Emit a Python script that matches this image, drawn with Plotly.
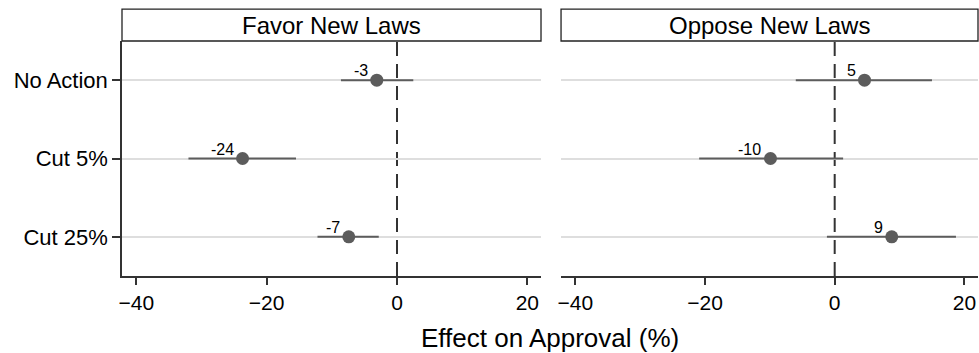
import plotly.graph_objects as go

categories = ["No Action", "Cut 5%", "Cut 25%"]
panels = ["Favor New Laws", "Oppose New Laws"]
favor_est = [-3.1, -23.7, -7.4]
favor_lo = [-8.6, -32.0, -12.2]
favor_hi = [2.5, -15.5, -2.8]
oppose_est = [4.6, -9.9, 8.8]
oppose_lo = [-6.0, -20.9, -1.2]
oppose_hi = [15.0, 1.3, 18.7]
x_ticks = [-40, -20, 0, 20]

FONT = "Liberation Sans, Arial, sans-serif"
GRAY = "#5c5c5c"

fig = go.Figure()
series = [(favor_est, favor_lo, favor_hi), (oppose_est, oppose_lo, oppose_hi)]
for i, (est, lo, hi) in enumerate(series):
    xa = "x" if i == 0 else "x2"
    ya = "y" if i == 0 else "y2"
    fig.add_trace(go.Scatter(
        x=est, y=categories, xaxis=xa, yaxis=ya,
        mode="markers",
        marker=dict(size=13, color=GRAY),
        error_x=dict(type="data", symmetric=False,
                     array=[h - e for h, e in zip(hi, est)],
                     arrayminus=[e - l for e, l in zip(est, lo)],
                     width=0, thickness=2, color=GRAY),
        showlegend=False, cliponaxis=False,
    ))
    for e, c in zip(est, categories):
        fig.add_annotation(xref=xa, yref=ya, x=e, y=c, text=f"{round(e):d}",
                           showarrow=False, xanchor="right", yanchor="bottom",
                           xshift=-7, yshift=-1,
                           font=dict(family=FONT, size=16, color="black"))

L, R = 0.0, 0.4895
R2 = 0.5129
common_x = dict(range=[-42.2, 22.1], tickvals=x_ticks, ticks="outside", ticklen=7,
                tickwidth=1.5, tickcolor="#333", showline=True, linecolor="#333",
                linewidth=1.5, showgrid=False, zeroline=False,
                tickfont=dict(family=FONT, size=21, color="black"))
fig.update_layout(
    xaxis=dict(domain=[L, R], anchor="y", **common_x),
    xaxis2=dict(domain=[R2, 1.0], anchor="y2", **common_x),
    yaxis=dict(domain=[0, 1], anchor="x", type="category", categoryorder="array",
               categoryarray=categories, range=[2.5, -0.5], showgrid=True,
               gridcolor="#dedede", gridwidth=2, ticks="outside", ticklen=8,
               tickwidth=1.5, tickcolor="#333", showline=True, linecolor="#333",
               linewidth=1.5, zeroline=False,
               tickfont=dict(family=FONT, size=22, color="black")),
    yaxis2=dict(domain=[0, 1], anchor="x2", type="category", categoryorder="array",
                categoryarray=categories, range=[2.5, -0.5], showgrid=True,
                gridcolor="#dedede", gridwidth=2, showticklabels=False,
                showline=False, zeroline=False),
    width=979, height=353,
    margin=dict(l=122, r=1, t=41, b=77),
    plot_bgcolor="white", paper_bgcolor="white",
    font=dict(family=FONT, color="black"),
)

# zero reference lines
for xr, yr in [("x", "y domain"), ("x2", "y2 domain")]:
    fig.add_shape(type="line", xref=xr, yref=yr, x0=0, x1=0, y0=0, y1=1,
                  line=dict(color="#333", width=2, dash="14px,8px"), layer="below")

# strip headers
for (x0, x1), title in zip([(L, R), (R2, 1.0)], panels):
    fig.add_shape(type="rect", xref="paper", yref="paper", x0=x0, x1=x1,
                  y0=1.0, y1=1.136, line=dict(color="#222", width=1.3),
                  fillcolor="white")
    fig.add_annotation(xref="paper", yref="paper", x=(x0 + x1) / 2, y=1.068,
                       text=title, showarrow=False, xanchor="center", yanchor="middle",
                       font=dict(family=FONT, size=24, color="black"))

fig.add_annotation(xref="paper", yref="paper", x=0.5, y=-0.264,
                   text="Effect on Approval (%)", showarrow=False,
                   xanchor="center", yanchor="middle",
                   font=dict(family=FONT, size=26, color="black"))

fig.write_html("out.html")
